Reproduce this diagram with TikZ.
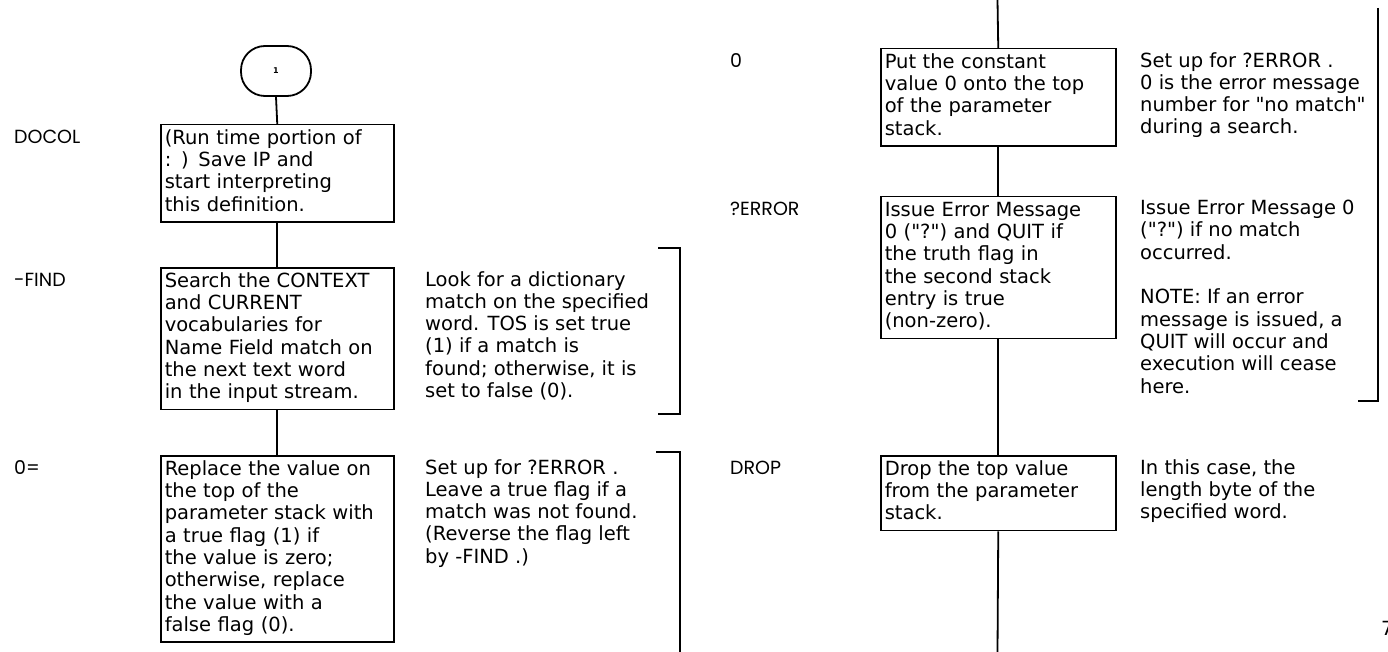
\documentclass[tikz,border=0pt]{standalone}
\usepackage{fontspec}
\setmainfont{DejaVu Sans}[Ligatures=TeXOff]
\newfontfamily\labfont{Poppins}
\newcommand\bodyfnt{\fontsize{19.5}{22.3}\selectfont}
\begin{document}
\begin{tikzpicture}[x=1pt,y=-1pt,
  boxl/.style={draw, line width=1.5pt, anchor=north west, align=left,
    text width=225pt, inner xsep=4pt, inner ysep=4pt, font=\bodyfnt,
    execute at begin node=\strut, execute at end node=\strut},
  boxr/.style={boxl, text width=227pt},
  cmt/.style={anchor=north west, align=left, inner xsep=0pt, inner ysep=4pt,
    font=\bodyfnt, execute at begin node=\strut, execute at end node=\strut},
  lab/.style={anchor=base west, inner sep=0pt, font=\labfont\fontsize{19}{21}\selectfont},
  conn/.style={line width=1.8pt},
  brk/.style={line width=1.8pt},
  term/.style={draw, line width=1.8pt, rectangle, rounded corners=24pt,
    minimum width=70pt, minimum height=50pt, inner sep=0pt,
    font=\bfseries\fontsize{8}{9}\selectfont}]
\useasboundingbox (0,0) rectangle (1388,652);
% ---------- left column ----------
\node[term] (t1) at (276,71) {1};
\node[boxl] (docol) at (160,124) {(Run time portion of\\: ) Save IP and\\start interpreting\\this definition.};
\node[lab] (ldocol) at (14,143.6) {DOCOL};
\node[boxl] (find) at (160,267) {Search the CONTEXT\\and CURRENT\\vocabularies for\\Name Field match on\\the next text word\\in the input stream.};
\node[lab] (lfind) at (14,286.6) {-FIND};
\node[cmt] (cfind) at (425,267) {Look for a dictionary\\match on the specified\\word. TOS is set true\\(1) if a match is\\found; otherwise, it is\\set to false (0).};
\node[boxl] (zeq) at (160,455) {Replace the value on\\the top of the\\parameter stack with\\a true flag (1) if\\the value is zero;\\otherwise, replace\\the value with a\\false flag (0).};
\node[lab] (lzeq) at (14,474.6) {0=};
\node[cmt] (czeq) at (425,455) {Set up for ?ERROR .\\Leave a true flag if a\\match was not found.\\(Reverse the flag left\\by -FIND .)};
\draw[conn] (t1.south) -- (docol.north);
\draw[conn] (docol.south) -- (find.north);
\draw[conn] (find.south) -- (zeq.north);
\draw[brk] (658,248) -- (680,248) -- (680,414) -- (658,414);
\draw[brk] (656,452) -- (680,452) -- (680,652);
% ---------- right column ----------
\coordinate (rtop) at (997.5,0);
\coordinate (rbot) at (997.5,652);
\node[boxr] (zero) at (880,48) {Put the constant\\value 0 onto the top\\of the parameter\\stack.};
\node[lab] (lzero) at (730,67.6) {0};
\node[cmt] (czero) at (1140,48) {Set up for ?ERROR .\\0 is the error message\\number for "no match"\\during a search.};
\node[boxr] (qerr) at (880,196) {Issue Error Message\\0 ("?") and QUIT if\\the truth flag in\\the second stack\\entry is true\\(non-zero).};
\node[lab] (lqerr) at (730,215.6) {?ERROR};
\node[cmt] (cqerr) at (1140,196) {Issue Error Message 0\\("?") if no match\\occurred.\\[22.3pt]NOTE: If an error\\message is issued, a\\QUIT will occur and\\execution will cease\\here.};
\node[boxr] (drop) at (880,455) {Drop the top value\\from the parameter\\stack.};
\node[lab] (ldrop) at (730,474.6) {DROP};
\node[cmt] (cdrop) at (1140,455) {In this case, the\\length byte of the\\specified word.};
\draw[conn] (rtop) -- (zero.north);
\draw[conn] (zero.south) -- (qerr.north);
\draw[conn] (qerr.south) -- (drop.north);
\draw[conn] (drop.south) -- (rbot);
\draw[brk] (1378,8) -- (1378,401) -- (1358,401);
\node[anchor=west, inner sep=0pt, font=\bodyfnt] (pg) at (1381,628) {7};
\end{tikzpicture}
\end{document}
